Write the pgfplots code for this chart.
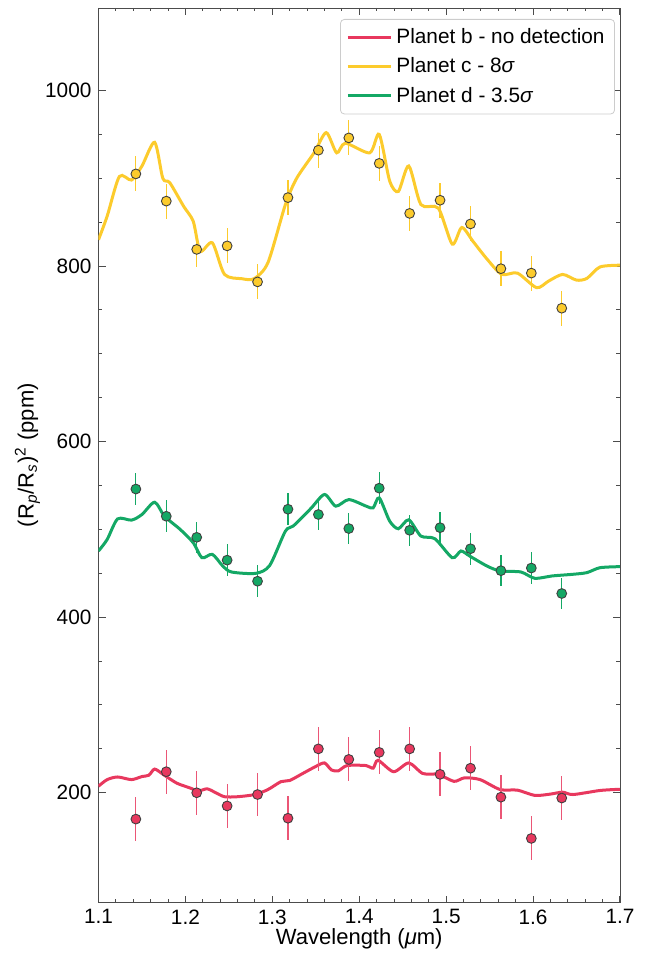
\documentclass[border=0pt]{standalone}
\usepackage{fontspec}
\setmainfont{Liberation Sans}
\usepackage{pgfplots}
\pgfplotsset{compat=1.18}

\definecolor{pred}{HTML}{E8385E}
\definecolor{pyel}{HTML}{FCCB2C}
\definecolor{pgrn}{HTML}{14A865}

\begin{document}
\begin{tikzpicture}
\begin{axis}[
  scale only axis, width=260.75pt, height=447.25pt,
  xmin=1.1, xmax=1.7, ymin=75, ymax=1094,
  xtick={1.1,1.2,1.3,1.4,1.5,1.6,1.7}, minor x tick num=4,
  ytick={200,400,600,800,1000}, minor y tick num=3,
  tick align=inside,
  major tick length=3.5pt, minor tick length=1.75pt,
  axis line style={black!70},
  every tick/.style={black!70, line width=0.5pt},
  ticklabel style={font=\fontsize{10.4}{12}\selectfont},
  xticklabel style={/pgf/number format/.cd, fixed, fixed zerofill, precision=1},
  yticklabel style={/pgf/number format/.cd, 1000 sep={}},
  /pgf/number format/assume math mode=true,
  xlabel={Wavelength (\textit{μ}m)},
  ylabel={(R\textsubscript{\textit{p}}/R\textsubscript{\textit{s}})\textsuperscript{2} (ppm)},
  label style={font=\fontsize{11}{13}\selectfont},
  xlabel style={at={(axis description cs:0.5,-0.0408)}, anchor=center},
  ylabel style={at={(axis description cs:-0.1361,0.5)}, anchor=center},
  legend style={at={(axis description cs:0.9904,0.9877)}, anchor=north east,
    draw=black!20, rounded corners=2pt, font=\fontsize{10.4}{12}\selectfont,
    row sep=1.6pt, inner xsep=3pt, inner ysep=2.5pt},
  legend cell align=left,
  legend image code/.code={\draw[#1] (0pt,0pt) -- (21.5pt,0pt);},
]

% model spectra
\addplot[pred, line width=1.5pt, smooth, tension=0.45] coordinates {
(1.100,207.5) (1.110,215) (1.122,218) (1.138,215) (1.150,218.5) (1.158,220)
(1.1646,227) (1.175,220.5) (1.190,211) (1.205,205.6) (1.215,202) (1.225,204.5)
(1.235,200) (1.245,195.5) (1.260,195.5) (1.280,198) (1.295,203.7) (1.310,212.7)
(1.320,214) (1.335,222) (1.350,230) (1.360,234) (1.368,226) (1.376,225)
(1.386,231) (1.408,231) (1.416,228) (1.4216,237) (1.4395,224) (1.457,234)
(1.473,222) (1.491,221) (1.509,213) (1.521,217) (1.539,215) (1.562,203.7)
(1.582,203) (1.602,197) (1.620,198.5) (1.634,200.7) (1.646,198) (1.677,202.6)
(1.700,204)
};
\addlegendentry{Planet b - no detection}

\addplot[pyel, line width=1.5pt, smooth, tension=0.45] coordinates {
(1.100,830) (1.110,857) (1.124,902) (1.138,898) (1.150,914) (1.1646,941)
(1.174,900) (1.182,895) (1.198,868) (1.209,851) (1.217,817) (1.231,826.5)
(1.245,790.5) (1.265,785.6) (1.279,785.6) (1.295,804) (1.315,870) (1.328,900)
(1.348,929) (1.362,952) (1.374,929) (1.384,940) (1.412,929) (1.423,950)
(1.435,897) (1.445,885) (1.457,914) (1.471,870) (1.491,866) (1.507,825)
(1.518,844) (1.531,828) (1.547,808) (1.564,790.5) (1.582,792) (1.604,775.4)
(1.618,783) (1.634,790.5) (1.650,784) (1.662,786) (1.677,799) (1.700,801)
};
\addlegendentry{Planet c - 8\textit{σ}}

\addplot[pgrn, line width=1.5pt, smooth, tension=0.45] coordinates {
(1.100,475.4) (1.110,488.6) (1.122,512) (1.138,510.6) (1.150,517) (1.1646,531)
(1.176,515) (1.194,500) (1.209,484.8) (1.219,467.8) (1.231,471.6) (1.243,458.3)
(1.253,451.5) (1.281,450) (1.297,459) (1.315,498) (1.324,503.8) (1.344,523.5)
(1.360,539.8) (1.373,526.5) (1.388,534) (1.408,526.5) (1.416,524.6) (1.423,536)
(1.435,509.5) (1.445,500.8) (1.457,511) (1.471,492.4) (1.487,489.4) (1.507,467.8)
(1.517,475.4) (1.527,469.7) (1.547,458.3) (1.562,452.7) (1.586,451.5) (1.602,444.3)
(1.622,447) (1.646,448.9) (1.662,450.8) (1.677,456.4) (1.700,457.6)
};
\addlegendentry{Planet d - 3.5\textit{σ}}

% measured points
\addplot[only marks, forget plot, mark=*, mark size=2.45pt,
  mark options={fill=pred, draw=black!75, line width=0.45pt},
  error bars/.cd, y dir=both, y fixed=25, error mark=none,
  error bar style={pred!85, line width=0.6pt}] coordinates {
(1.143,170) (1.178,224) (1.213,200) (1.248,185) (1.283,198) (1.318,171)
(1.353,250) (1.388,238) (1.423,246) (1.458,250) (1.493,221) (1.528,228)
(1.563,195) (1.598,148) (1.633,194)
};

\addplot[only marks, forget plot, mark=*, mark size=2.45pt,
  mark options={fill=pyel, draw=black!75, line width=0.45pt},
  error bars/.cd, y dir=both, y fixed=20, error mark=none,
  error bar style={pyel, line width=0.6pt}] coordinates {
(1.143,905) (1.178,874) (1.213,819) (1.248,823) (1.283,782) (1.318,878)
(1.353,932) (1.388,946) (1.423,917) (1.458,860) (1.493,875) (1.528,848)
(1.563,797) (1.598,792) (1.633,752)
};

\addplot[only marks, forget plot, mark=*, mark size=2.45pt,
  mark options={fill=pgrn, draw=black!75, line width=0.45pt},
  error bars/.cd, y dir=both, y fixed=18, error mark=none,
  error bar style={pgrn, line width=0.6pt}] coordinates {
(1.143,546) (1.178,515) (1.213,491) (1.248,465) (1.283,441) (1.318,523)
(1.353,517) (1.388,501) (1.423,547) (1.458,499) (1.493,502) (1.528,478)
(1.563,453) (1.598,456) (1.633,427)
};

\end{axis}
\pgfresetboundingbox
\path[use as bounding box] ([xshift=-49.25pt,yshift=-25.25pt]current axis.south west)
  rectangle ([xshift=13pt,yshift=4pt]current axis.north east);
\end{tikzpicture}
\end{document}
